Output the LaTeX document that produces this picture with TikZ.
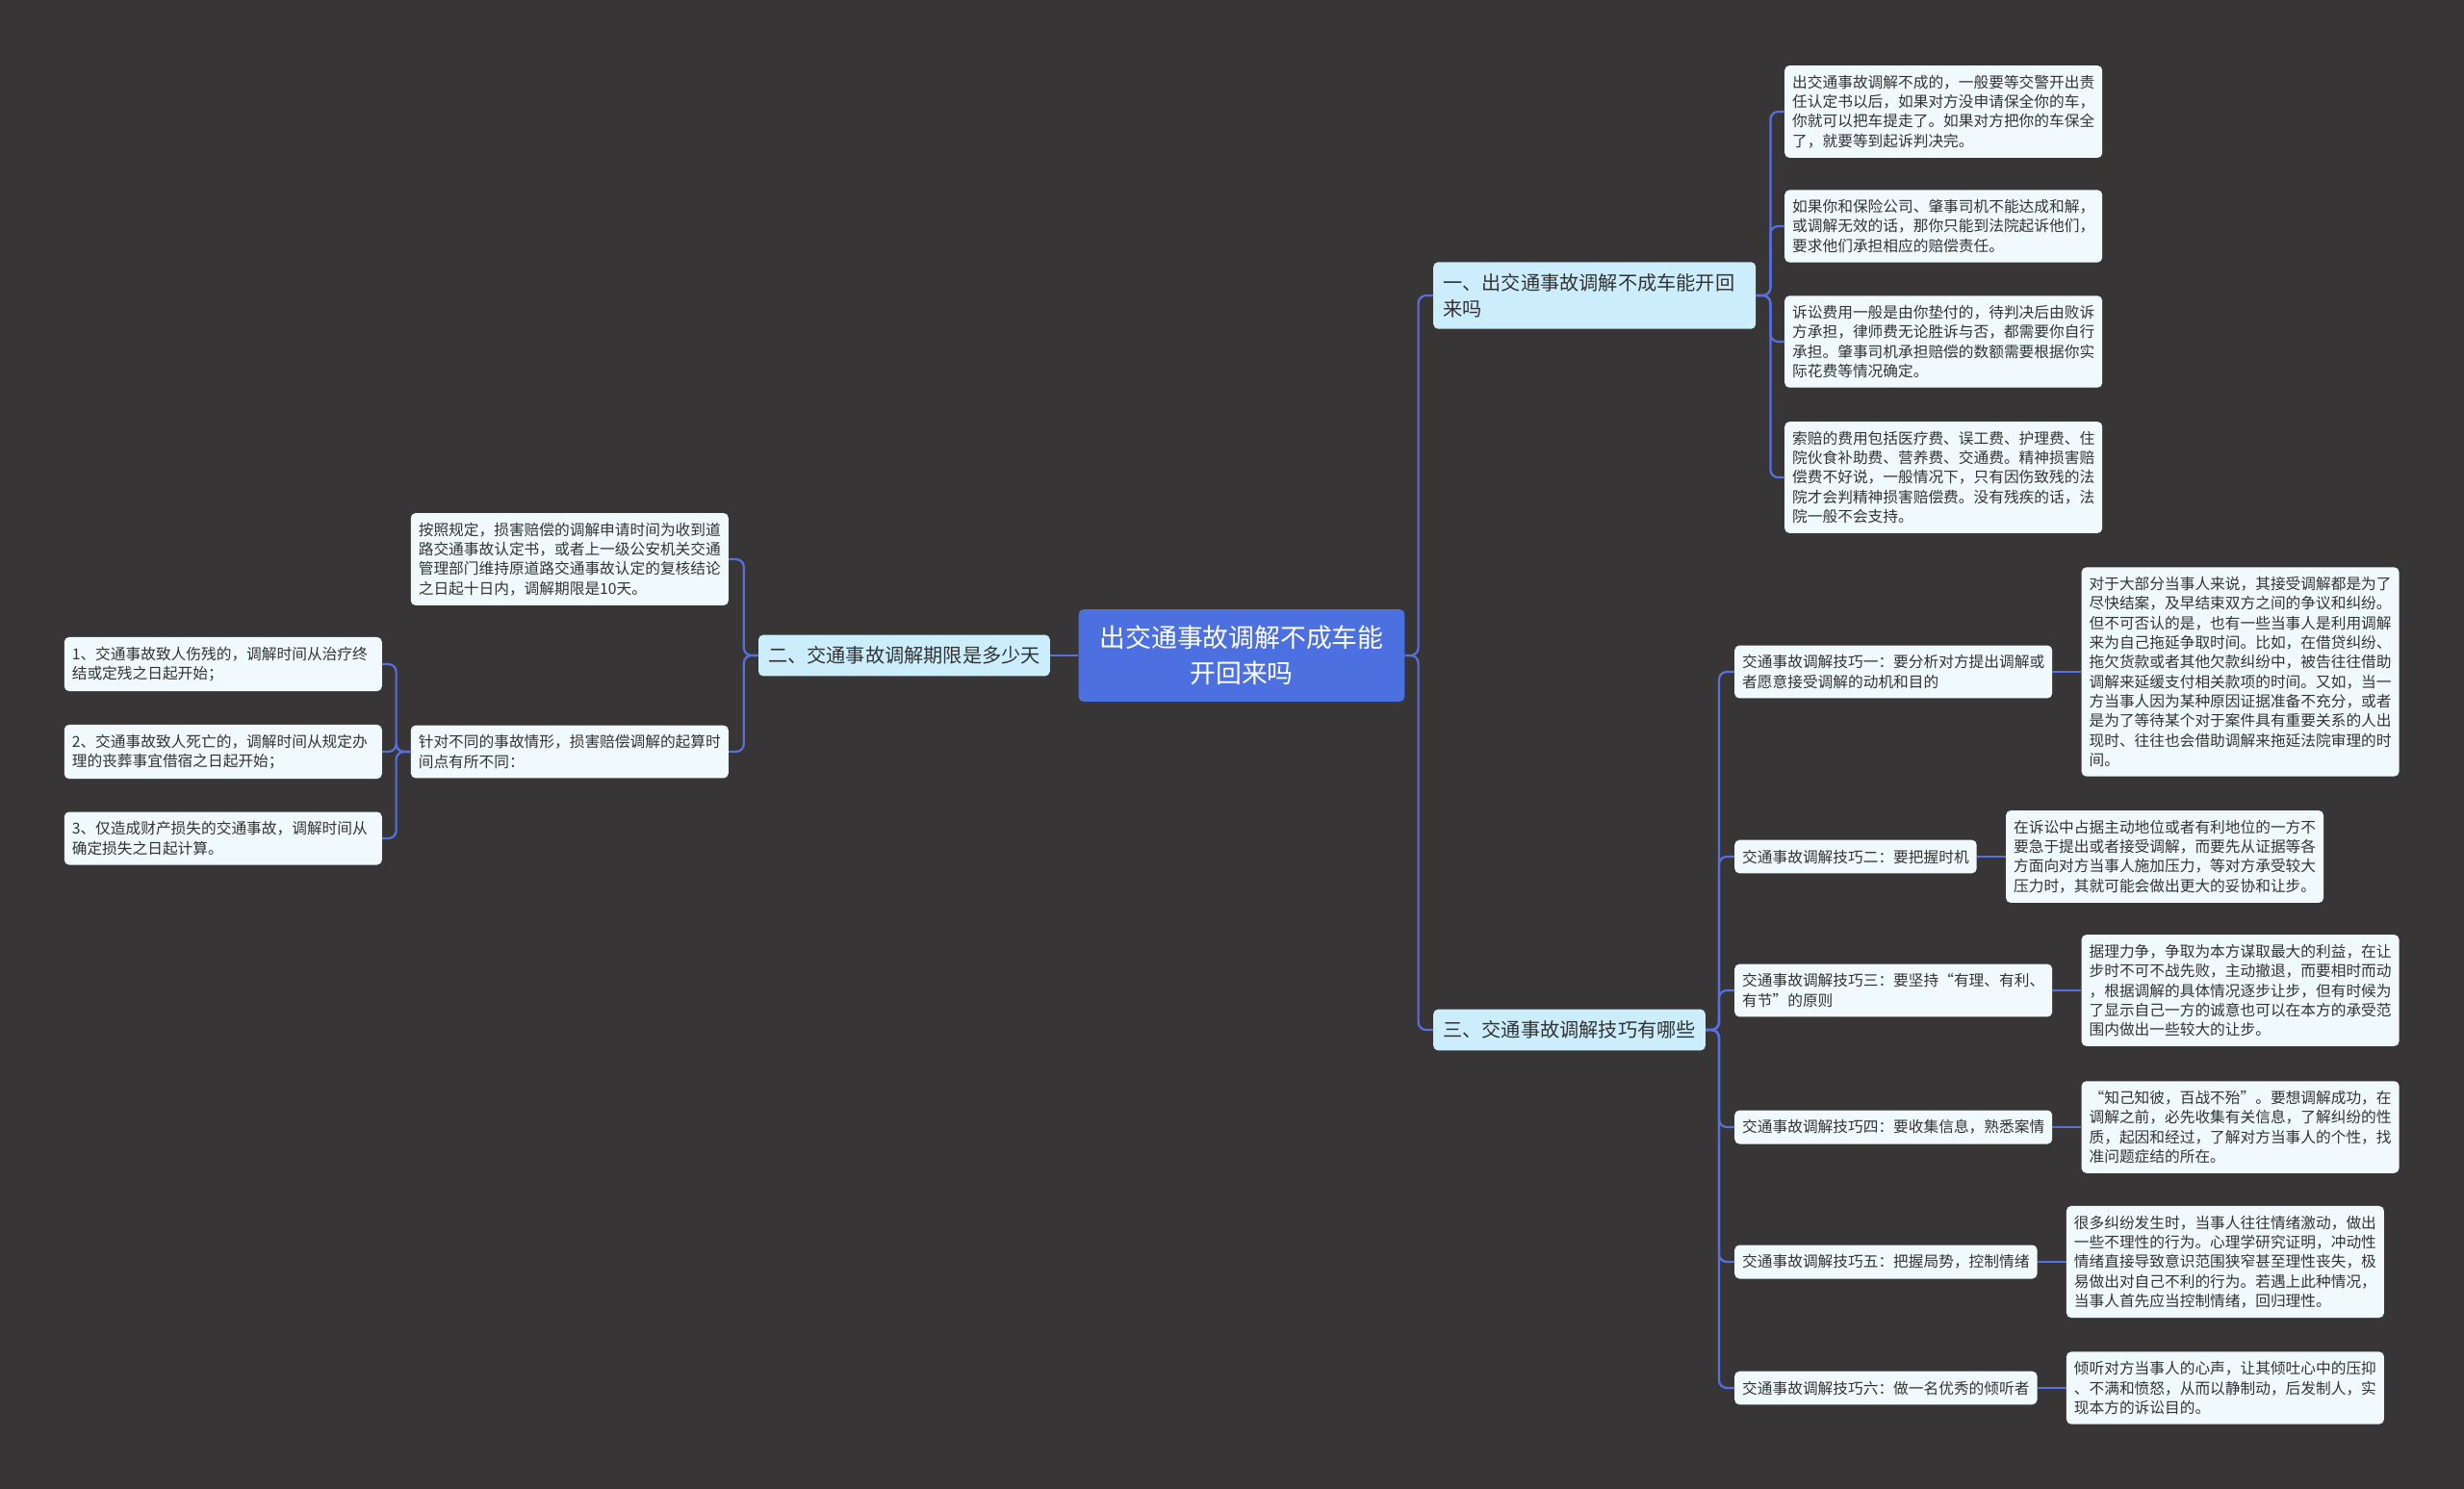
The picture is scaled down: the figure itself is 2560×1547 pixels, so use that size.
\documentclass[tikz,border=0pt]{standalone}
\usepackage{fontspec}
\setmainfont{Noto Sans CJK SC}
\usetikzlibrary{positioning}
\definecolor{bgdark}{RGB}{55,53,54}
\definecolor{rootblue}{RGB}{76,112,224}
\definecolor{branchcyan}{RGB}{204,238,252}
\definecolor{leafwhite}{RGB}{240,250,253}
\definecolor{linkblue}{RGB}{88,112,222}
\definecolor{inkgray}{RGB}{51,51,51}

\begin{document}
\begin{tikzpicture}[
    x=1pt, y=-1pt,
    rootbox/.style={fill=rootblue, rounded corners=5pt, align=center, text=white, font=\fontsize{26.8}{36.7}\selectfont, inner xsep=22pt, inner ysep=17pt},
    branchbox/.style={fill=branchcyan, rounded corners=5pt, align=left, text=inkgray, font=\fontsize{20.2}{26.7}\selectfont, inner xsep=10pt, inner ysep=12pt},
    leafbox/.style={fill=leafwhite, rounded corners=5pt, align=left, text=inkgray, font=\fontsize{15.7}{20.3}\selectfont, inner xsep=8pt, inner ysep=10pt},
    notebox/.style={leafbox, text width=314pt},
    link/.style={draw=linkblue, line width=2.2pt, rounded corners=8pt}
]
  \useasboundingbox (0,0) rectangle (2560,1547);
  \fill[bgdark] (0,0) rectangle (2560,1547);

  \node[rootbox] (root) at (1290,681) {出交通事故调解不成车能\\开回来吗};

  % branch one
  \node[branchbox, text width=315pt, anchor=west] (br1) at (1489,307) {一、出交通事故调解不成车能开回\\来吗};
  \node[notebox, anchor=west] (k1) at (1854,116) {出交通事故调解不成的，一般要等交警开出责\\任认定书以后，如果对方没申请保全你的车，\\你就可以把车提走了。如果对方把你的车保全\\了，就要等到起诉判决完。};
  \node[notebox, anchor=west] (k2) at (1854,235) {如果你和保险公司、肇事司机不能达成和解，\\或调解无效的话，那你只能到法院起诉他们，\\要求他们承担相应的赔偿责任。};
  \node[notebox, anchor=west] (k3) at (1854,355) {诉讼费用一般是由你垫付的，待判决后由败诉\\方承担，律师费无论胜诉与否，都需要你自行\\承担。肇事司机承担赔偿的数额需要根据你实\\际花费等情况确定。};
  \node[notebox, anchor=west] (k4) at (1854,496) {索赔的费用包括医疗费、误工费、护理费、住\\院伙食补助费、营养费、交通费。精神损害赔\\偿费不好说，一般情况下，只有因伤致残的法\\院才会判精神损害赔偿费。没有残疾的话，法\\院一般不会支持。};

  % branch two
  \node[branchbox, anchor=east] (br2) at (1091,681) {二、交通事故调解期限是多少天};
  \node[notebox, anchor=east] (q1) at (757,581) {按照规定，损害赔偿的调解申请时间为收到道\\路交通事故认定书，或者上一级公安机关交通\\管理部门维持原道路交通事故认定的复核结论\\之日起十日内，调解期限是10天。};
  \node[notebox, anchor=east] (q2) at (757,781) {针对不同的事故情形，损害赔偿调解的起算时\\间点有所不同：};
  \node[notebox, anchor=east] (s1) at (397,690) {1、交通事故致人伤残的，调解时间从治疗终\\结或定残之日起开始；};
  \node[notebox, anchor=east] (s2) at (397,781) {2、交通事故致人死亡的，调解时间从规定办\\理的丧葬事宜借宿之日起开始；};
  \node[notebox, anchor=east] (s3) at (397,871) {3、仅造成财产损失的交通事故，调解时间从\\确定损失之日起计算。};

  % branch three
  \node[branchbox, anchor=west] (br3) at (1489,1070) {三、交通事故调解技巧有哪些};
  \node[leafbox, anchor=west] (t1) at (1802,698) {交通事故调解技巧一：要分析对方提出调解或\\者愿意接受调解的动机和目的};
  \node[leafbox, anchor=west] (t2) at (1802,890) {交通事故调解技巧二：要把握时机};
  \node[leafbox, anchor=west] (t3) at (1802,1029) {交通事故调解技巧三：要坚持“有理、有利、\\有节”的原则};
  \node[leafbox, anchor=west] (t4) at (1802,1171) {交通事故调解技巧四：要收集信息，熟悉案情};
  \node[leafbox, anchor=west] (t5) at (1802,1311) {交通事故调解技巧五：把握局势，控制情绪};
  \node[leafbox, anchor=west] (t6) at (1802,1442) {交通事故调解技巧六：做一名优秀的倾听者};

  \node[notebox, right=30pt of t1] (e1) {对于大部分当事人来说，其接受调解都是为了\\尽快结案，及早结束双方之间的争议和纠纷。\\但不可否认的是，也有一些当事人是利用调解\\来为自己拖延争取时间。比如，在借贷纠纷、\\拖欠货款或者其他欠款纠纷中，被告往往借助\\调解来延缓支付相关款项的时间。又如，当一\\方当事人因为某种原因证据准备不充分，或者\\是为了等待某个对于案件具有重要关系的人出\\现时、往往也会借助调解来拖延法院审理的时\\间。};
  \node[notebox, right=30pt of t2] (e2) {在诉讼中占据主动地位或者有利地位的一方不\\要急于提出或者接受调解，而要先从证据等各\\方面向对方当事人施加压力，等对方承受较大\\压力时，其就可能会做出更大的妥协和让步。};
  \node[notebox, right=30pt of t3] (e3) {据理力争，争取为本方谋取最大的利益，在让\\步时不可不战先败，主动撤退，而要相时而动\\，根据调解的具体情况逐步让步，但有时候为\\了显示自己一方的诚意也可以在本方的承受范\\围内做出一些较大的让步。};
  \node[notebox, right=30pt of t4] (e4) {“知己知彼，百战不殆”。要想调解成功，在\\调解之前，必先收集有关信息，了解纠纷的性\\质，起因和经过，了解对方当事人的个性，找\\准问题症结的所在。};
  \node[notebox, right=30pt of t5] (e5) {很多纠纷发生时，当事人往往情绪激动，做出\\一些不理性的行为。心理学研究证明，冲动性\\情绪直接导致意识范围狭窄甚至理性丧失，极\\易做出对自己不利的行为。若遇上此种情况，\\当事人首先应当控制情绪，回归理性。};
  \node[notebox, right=30pt of t6] (e6) {倾听对方当事人的心声，让其倾吐心中的压抑\\、不满和愤怒，从而以静制动，后发制人，实\\现本方的诉讼目的。};

  \draw[link] (root.east) -- ++(14pt,0) |- (br1.west);
  \draw[link] (root.east) -- ++(14pt,0) |- (br3.west);
  \draw[link] (root.west) -- (br2.east);

  \draw[link] (br1.east) -- ++(15pt,0) |- (k1.west);
  \draw[link] (br1.east) -- ++(15pt,0) |- (k2.west);
  \draw[link] (br1.east) -- ++(15pt,0) |- (k3.west);
  \draw[link] (br1.east) -- ++(15pt,0) |- (k4.west);

  \draw[link] (br2.west) -- ++(-15pt,0) |- (q1.east);
  \draw[link] (br2.west) -- ++(-15pt,0) |- (q2.east);
  \draw[link] (q2.west) -- ++(-15pt,0) |- (s1.east);
  \draw[link] (q2.west) -- ++(-15pt,0) |- (s2.east);
  \draw[link] (q2.west) -- ++(-15pt,0) |- (s3.east);

  \draw[link] (br3.east) -- ++(14pt,0) |- (t1.west);
  \draw[link] (br3.east) -- ++(14pt,0) |- (t2.west);
  \draw[link] (br3.east) -- ++(14pt,0) |- (t3.west);
  \draw[link] (br3.east) -- ++(14pt,0) |- (t4.west);
  \draw[link] (br3.east) -- ++(14pt,0) |- (t5.west);
  \draw[link] (br3.east) -- ++(14pt,0) |- (t6.west);

  \draw[link] (t1.east) -- (e1.west);
  \draw[link] (t2.east) -- (e2.west);
  \draw[link] (t3.east) -- (e3.west);
  \draw[link] (t4.east) -- (e4.west);
  \draw[link] (t5.east) -- (e5.west);
  \draw[link] (t6.east) -- (e6.west);
\end{tikzpicture}
\end{document}
